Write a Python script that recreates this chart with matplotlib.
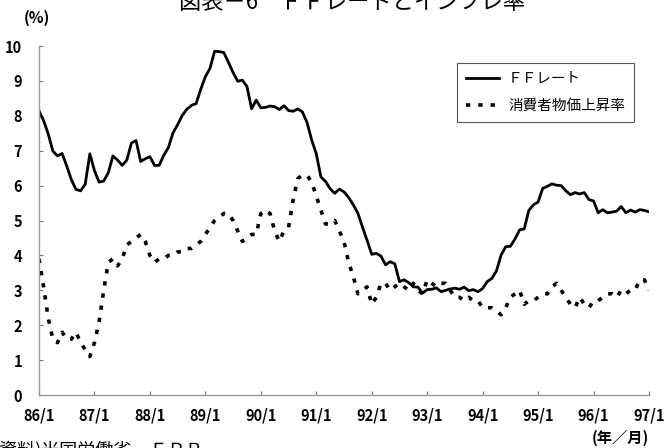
import matplotlib.pyplot as plt
import numpy as np

plt.rcParams["font.family"] = ["Noto Sans CJK JP", "DejaVu Sans"]

# --- data: monthly values 86/1 - 97/1 ---
ff_rate = [
    8.14, 7.86, 7.48, 6.99, 6.85, 6.92, 6.56, 6.17, 5.89, 5.85, 6.04, 6.91,
    6.43, 6.10, 6.13, 6.37, 6.85, 6.73, 6.58, 6.73, 7.22, 7.29, 6.69, 6.77,
    6.83, 6.58, 6.58, 6.87, 7.09, 7.51, 7.75, 8.01, 8.19, 8.30, 8.35, 8.76,
    9.12, 9.36, 9.85, 9.84, 9.81, 9.53, 9.24, 8.99, 9.02, 8.84, 8.20, 8.45,
    8.23, 8.24, 8.28, 8.26, 8.18, 8.29, 8.15, 8.13, 8.20, 8.11, 7.81, 7.31,
    6.91, 6.25, 6.12, 5.91, 5.78, 5.90, 5.82, 5.66, 5.45, 5.21, 4.81, 4.43,
    4.03, 4.06, 3.98, 3.73, 3.82, 3.76, 3.25, 3.30, 3.22, 3.10, 3.09, 2.92,
    3.02, 3.03, 3.07, 2.96, 3.00, 3.04, 3.06, 3.03, 3.09, 2.99, 3.02, 2.96,
    3.05, 3.25, 3.34, 3.56, 4.01, 4.25, 4.26, 4.47, 4.73, 4.76, 5.29, 5.45,
    5.53, 5.92, 5.98, 6.05, 6.01, 6.00, 5.85, 5.74, 5.80, 5.76, 5.80, 5.60,
    5.56, 5.22, 5.31, 5.22, 5.24, 5.27, 5.40, 5.22, 5.30, 5.24, 5.31, 5.29,
    5.25,
]
cpi_rate = [
    3.9, 3.1, 2.2, 1.6, 1.5, 1.8, 1.6, 1.6, 1.8, 1.5, 1.3, 1.1,
    1.5, 2.1, 3.0, 3.8, 3.9, 3.7, 3.9, 4.3, 4.4, 4.5, 4.6, 4.4,
    4.0, 3.8, 3.9, 3.9, 4.0, 4.0, 4.1, 4.1, 4.2, 4.2, 4.3, 4.4,
    4.6, 4.8, 5.0, 5.1, 5.2, 5.2, 5.0, 4.7, 4.4, 4.5, 4.6, 4.6,
    5.2, 5.3, 5.2, 4.7, 4.4, 4.7, 4.8, 5.6, 6.2, 6.3, 6.3, 6.1,
    5.7, 5.3, 4.9, 4.9, 5.0, 4.7, 4.4, 3.8, 3.4, 2.9, 3.0, 3.1,
    2.6, 2.8, 3.2, 3.2, 3.0, 3.1, 3.2, 3.1, 3.0, 3.2, 3.0, 2.9,
    3.3, 3.2, 3.1, 3.2, 3.2, 3.0, 2.8, 2.8, 2.7, 2.8, 2.7, 2.7,
    2.5, 2.5, 2.5, 2.4, 2.3, 2.5, 2.8, 2.9, 3.0, 2.6, 2.7, 2.7,
    2.8, 2.9, 2.9, 3.1, 3.2, 3.0, 2.8, 2.6, 2.5, 2.8, 2.6, 2.5,
    2.7, 2.7, 2.8, 2.9, 2.9, 2.8, 3.0, 2.9, 3.0, 3.0, 3.3, 3.3,
    3.0,
]
x_labels = ["86/1", "87/1", "88/1", "89/1", "90/1", "91/1",
            "92/1", "93/1", "94/1", "95/1", "96/1", "97/1"]

months = np.arange(len(ff_rate))

# --- figura ---
fig = plt.figure(figsize=(6.64, 4.48), dpi=100)
ax = fig.add_axes([39 / 664, 53 / 448, 610 / 664, 349 / 448])

ax.plot(months, ff_rate, color="black", lw=2.0, solid_joinstyle="round",
        label="ＦＦレート")
ax.plot(months, cpi_rate, color="black", lw=2.6, linestyle=(0, (1.2, 2.2)),
        label="消費者物価上昇率")

ax.set_xlim(0, 132)
ax.set_ylim(0, 10)
ax.set_xticks(np.arange(0, 133, 12))
ax.set_xticklabels(x_labels)
ax.set_yticks(range(0, 11))

for side in ("top", "right"):
    ax.spines[side].set_visible(False)
for side in ("left", "bottom"):
    ax.spines[side].set_color("#9a9a9a")
    ax.spines[side].set_linewidth(1.0)

ax.tick_params(axis="both", direction="in", length=3, width=0.8,
               color="#777777", labelsize=10.5)
ax.tick_params(axis="x", pad=9)
ax.tick_params(axis="y", pad=12)
for lab in ax.get_xticklabels() + ax.get_yticklabels():
    lab.set_fontweight("bold")

# --- legenda ---
leg = ax.legend(loc="upper right", bbox_to_anchor=(641 / 664, 392 / 448),
                bbox_transform=fig.transFigure, fontsize=10.5,
                handlelength=2.3, labelspacing=0.9, borderpad=0.6,
                handletextpad=0.6, fancybox=False, framealpha=1)
leg.get_frame().set_edgecolor("#555555")
leg.get_frame().set_linewidth(0.8)

# --- testi ---
fig.text(0.53, 0.995, "図表－6　ＦＦレートとインフレ率", ha="center", va="center",
         fontsize=16)
fig.text(0.055, 0.96, "(%)", ha="center", va="center", fontsize=11,
         fontweight="bold")
fig.text(0.935, 0.022, "(年／月)", ha="center", va="center", fontsize=11,
         fontweight="bold")
fig.text(-0.01, 0.016, "(資料)米国労働省、ＦＲＢ", ha="left", va="top",
         fontsize=13)

fig.savefig("out.png", dpi=100)
